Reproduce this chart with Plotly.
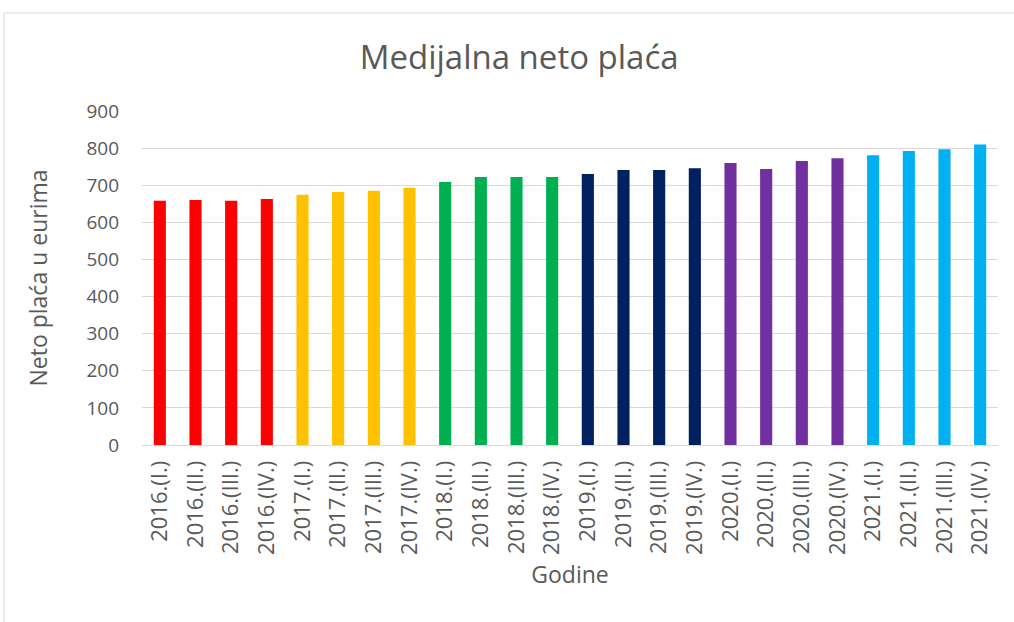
import plotly.graph_objects as go

categories = [
    "2016.(I.)", "2016.(II.)", "2016.(III.)", "2016.(IV.)",
    "2017.(I.)", "2017.(II.)", "2017.(III.)", "2017.(IV.)",
    "2018.(I.)", "2018.(II.)", "2018.(III.)", "2018.(IV.)",
    "2019.(I.)", "2019.(II.)", "2019.(III.)", "2019.(IV.)",
    "2020.(I.)", "2020.(II.)", "2020.(III.)", "2020.(IV.)",
    "2021.(I.)", "2021.(II.)", "2021.(III.)", "2021.(IV.)",
]
values = [658, 660, 658, 663,
          674, 682, 685, 693,
          709, 722, 722, 722,
          730, 741, 741, 746,
          760, 744, 765, 773,
          781, 792, 797, 810]
year_colors = ["#FF0000", "#FFC000", "#00B050", "#002060", "#7030A0", "#00B0F0"]
bar_colors = [year_colors[i // 4] for i in range(len(categories))]
y_ticks = [0, 100, 200, 300, 400, 500, 600, 700, 800, 900]

FONT = "Open Sans"
GRAY = "#595959"

fig = go.Figure(go.Bar(x=categories, y=values, marker_color=bar_colors,
                       marker_line_width=0, width=0.34))

fig.update_layout(
    width=1014, height=622,
    margin=dict(l=142, r=16, t=111, b=177),
    paper_bgcolor="white", plot_bgcolor="white",
    font=dict(family=FONT, color=GRAY),
    title=dict(text="Medijalna neto plaća", x=0.512, xanchor="center",
               y=0.907, yanchor="middle",
               font=dict(size=33, color=GRAY, family=FONT)),
    showlegend=False,
    xaxis=dict(tickangle=-90, tickfont=dict(size=22, color=GRAY),
               showline=True, linecolor="#d9d9d9", linewidth=1,
               ticks="", showgrid=False, ticklabelstandoff=6,
               title=dict(text="Godine", font=dict(size=23, color=GRAY), standoff=12)),
    yaxis=dict(range=[0, 900], tickvals=y_ticks, tickfont=dict(size=19, color=GRAY),
               showgrid=True, gridcolor="#d9d9d9", gridwidth=1, zeroline=False,
               ticks="", ticklabelstandoff=22,
               title=dict(text="Neto plaća u eurima", font=dict(size=23, color=GRAY), standoff=32)),
)

fig.add_shape(type="rect", xref="paper", yref="paper",
              x0=-0.1612, x1=1.05, y0=-0.6, y1=1.2934,
              line=dict(color="#d9d9d9", width=1), fillcolor="rgba(0,0,0,0)")

fig.write_html("out.html", config={"displayModeBar": False},
               post_script="document.body.style.margin='0';")
